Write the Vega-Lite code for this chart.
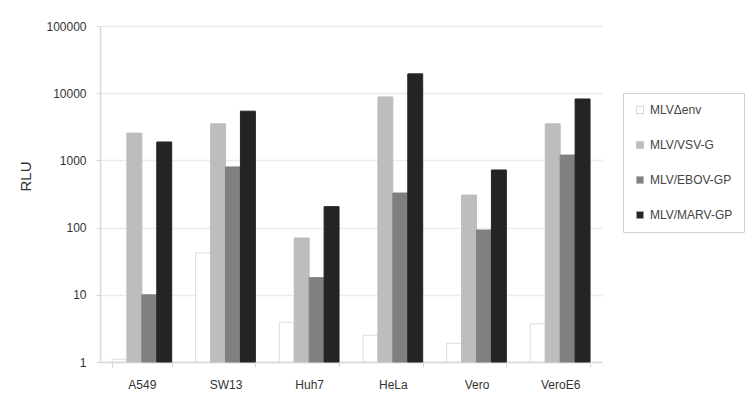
{
  "$schema": "https://vega.github.io/schema/vega-lite/v6.json",
  "width": 502,
  "height": 336,
  "autosize": {"type": "none"},
  "padding": {"left": 100, "top": 26, "right": 146, "bottom": 42},
  "background": "white",
  "config": {
    "view": {"stroke": null},
    "font": "Liberation Sans",
    "axis": {"labelFont": "Liberation Sans", "titleFont": "Liberation Sans"}
  },
  "data": {
    "values": [
      {"cell": "A549", "vector": "MLVΔenv", "rlu": 1.1},
      {"cell": "A549", "vector": "MLV/VSV-G", "rlu": 2550},
      {"cell": "A549", "vector": "MLV/EBOV-GP", "rlu": 10},
      {"cell": "A549", "vector": "MLV/MARV-GP", "rlu": 1880},
      {"cell": "SW13", "vector": "MLVΔenv", "rlu": 42},
      {"cell": "SW13", "vector": "MLV/VSV-G", "rlu": 3500},
      {"cell": "SW13", "vector": "MLV/EBOV-GP", "rlu": 800},
      {"cell": "SW13", "vector": "MLV/MARV-GP", "rlu": 5400},
      {"cell": "Huh7", "vector": "MLVΔenv", "rlu": 3.9},
      {"cell": "Huh7", "vector": "MLV/VSV-G", "rlu": 70},
      {"cell": "Huh7", "vector": "MLV/EBOV-GP", "rlu": 18},
      {"cell": "Huh7", "vector": "MLV/MARV-GP", "rlu": 205},
      {"cell": "HeLa", "vector": "MLVΔenv", "rlu": 2.5},
      {"cell": "HeLa", "vector": "MLV/VSV-G", "rlu": 8800},
      {"cell": "HeLa", "vector": "MLV/EBOV-GP", "rlu": 327},
      {"cell": "HeLa", "vector": "MLV/MARV-GP", "rlu": 19400},
      {"cell": "Vero", "vector": "MLVΔenv", "rlu": 1.9},
      {"cell": "Vero", "vector": "MLV/VSV-G", "rlu": 305},
      {"cell": "Vero", "vector": "MLV/EBOV-GP", "rlu": 92},
      {"cell": "Vero", "vector": "MLV/MARV-GP", "rlu": 720},
      {"cell": "VeroE6", "vector": "MLVΔenv", "rlu": 3.7},
      {"cell": "VeroE6", "vector": "MLV/VSV-G", "rlu": 3500},
      {"cell": "VeroE6", "vector": "MLV/EBOV-GP", "rlu": 1200},
      {"cell": "VeroE6", "vector": "MLV/MARV-GP", "rlu": 8200}
    ]
  },
  "mark": {"type": "bar", "strokeWidth": 1},
  "encoding": {
    "x": {
      "field": "cell",
      "type": "nominal",
      "sort": ["A549", "SW13", "Huh7", "HeLa", "Vero", "VeroE6"],
      "scale": {"paddingInner": 0.286, "paddingOuter": 0.143},
      "axis": {
        "title": null,
        "labelAngle": 0,
        "labelFontSize": 12,
        "labelColor": "#333",
        "labelPadding": 12,
        "domainColor": "#d8d8d8",
        "domainWidth": 1.5,
        "tickColor": "#d8d8d8",
        "tickBand": "extent",
        "tickSize": 5,
        "grid": false
      }
    },
    "xOffset": {
      "field": "vector",
      "type": "nominal",
      "sort": ["MLVΔenv", "MLV/VSV-G", "MLV/EBOV-GP", "MLV/MARV-GP"],
      "scale": {"paddingInner": 0, "paddingOuter": 0}
    },
    "y": {
      "field": "rlu",
      "type": "quantitative",
      "scale": {"type": "log", "domain": [1, 100000], "nice": false},
      "axis": {
        "title": "RLU",
        "titleFontSize": 15,
        "titleFontWeight": "normal",
        "titleColor": "#333",
        "titleX": -75,
        "titleY": 150,
        "titleAngle": -90,
        "titleAlign": "center",
        "titleBaseline": "middle",
        "values": [1, 10, 100, 1000, 10000, 100000],
        "format": "d",
        "labelFontSize": 12,
        "labelColor": "#333",
        "labelPadding": 10,
        "tickSize": 4,
        "tickColor": "#d8d8d8",
        "domainColor": "#d8d8d8",
        "domainWidth": 1.5,
        "gridColor": "#ececec",
        "gridWidth": 1.5
      }
    },
    "y2": {"datum": 1},
    "fill": {
      "field": "vector",
      "type": "nominal",
      "sort": ["MLVΔenv", "MLV/VSV-G", "MLV/EBOV-GP", "MLV/MARV-GP"],
      "scale": {"range": ["#ffffff", "#bdbdbd", "#808080", "#242424"]},
      "legend": {
        "title": null,
        "orient": "none",
        "legendX": 523,
        "legendY": 67,
        "symbolType": "square",
        "symbolSize": 50,
        "symbolStrokeColor": "#b0b0b0",
        "symbolStrokeWidth": 0.5,
        "labelFontSize": 12,
        "labelColor": "#444",
        "labelOffset": 4,
        "rowPadding": 23,
        "padding": 11,
        "fillColor": "white",
        "strokeColor": "#d0d0d0"
      }
    },
    "stroke": {
      "field": "vector",
      "type": "nominal",
      "sort": ["MLVΔenv", "MLV/VSV-G", "MLV/EBOV-GP", "MLV/MARV-GP"],
      "scale": {"range": ["#dcdcdc", "#bdbdbd", "#808080", "#242424"]},
      "legend": null
    }
  }
}
